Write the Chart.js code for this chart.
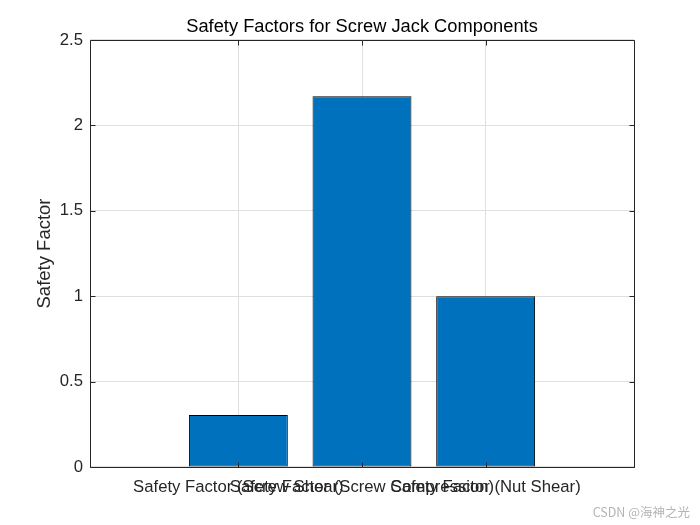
<!DOCTYPE html>
<html>
<head>
<meta charset="utf-8">
<script src="https://cdn.jsdelivr.net/npm/chart.js@4"></script>
<style>
html,body{margin:0;padding:0;background:#fff;}
canvas{display:block;}
</style>
</head>
<body>
<canvas id="c" width="700" height="525"></canvas>
<script>
const categories = ['Safety Factor (Screw Shear)', 'Safety Factor (Screw Compression)', 'Safety Factor (Nut Shear)'];
const safetyFactors = [0.305, 2.17, 1.0];
const yTicks = [0, 0.5, 1, 1.5, 2, 2.5];
const xTicks = [1, 2, 3];

const FONT = '"Liberation Sans", Arial, Helvetica, sans-serif';
const TXT = '#262626';

const points = categories.map((c, i) => ({x: i + 1, y: safetyFactors[i]}));

const frame = {
  id: 'frame',
  afterDatasetsDraw(chart) {
    const ctx = chart.ctx, a = chart.chartArea;
    const xs = chart.scales.x, ys = chart.scales.y;
    ctx.save();
    ctx.strokeStyle = TXT;
    ctx.lineWidth = 1;
    ctx.beginPath();
    const L = Math.round(a.left) + 0.5, R = Math.round(a.right) + 0.5;
    const T = Math.round(a.top) + 0.5, B = Math.round(a.bottom) + 0.5;
    ctx.rect(L, T, R - L, B - T);
    xTicks.forEach(v => {
      const p = Math.round(xs.getPixelForValue(v)) + 0.5;
      ctx.moveTo(p, B); ctx.lineTo(p, B - 5);
      ctx.moveTo(p, T); ctx.lineTo(p, T + 5);
    });
    yTicks.forEach(v => {
      const p = Math.round(ys.getPixelForValue(v)) + 0.5;
      ctx.moveTo(L, p); ctx.lineTo(L + 5, p);
      ctx.moveTo(R, p); ctx.lineTo(R - 5, p);
    });
    ctx.stroke();
    ctx.restore();
  },
  afterDraw(chart) {
    const ctx = chart.ctx;
    ctx.save();
    ctx.fillStyle = '#b4b4b4';
    ctx.font = '12.5px "Noto Sans CJK SC", sans-serif';
    ctx.textAlign = 'right';
    ctx.textBaseline = 'middle';
    ctx.fillText('CSDN @海神之光', 690, 512);
    ctx.restore();
  }
};

new Chart(document.getElementById('c'), {
  type: 'bar',
  data: {
    datasets: [{
      data: points,
      backgroundColor: '#0072BD',
      borderColor: '#000000',
      borderWidth: 1,
      borderSkipped: false,
      categoryPercentage: 0.8,
      barPercentage: 1.0
    }]
  },
  options: {
    responsive: false,
    animation: false,
    devicePixelRatio: 1,
    layout: {padding: {left: 0, right: 66, top: 0, bottom: 0}},
    plugins: {
      legend: {display: false},
      tooltip: {enabled: false},
      title: {
        display: true,
        text: 'Safety Factors for Screw Jack Components',
        fullSize: false,
        color: '#000',
        font: {family: FONT, size: 18.3, weight: 'normal'},
        padding: {top: 16, bottom: 2}
      }
    },
    scales: {
      x: {
        type: 'linear',
        min: -0.2,
        max: 4.2,
        offset: false,
        afterBuildTicks: s => { s.ticks = xTicks.map(v => ({value: v})); },
        afterFit: s => { s.height = 58; },
        grid: {offset: false, color: '#dfdfdf', drawTicks: false},
        border: {display: false},
        ticks: {
          autoSkip: false,
          maxRotation: 0,
          minRotation: 0,
          padding: 10,
          color: TXT,
          font: {family: FONT, size: 16.7},
          callback: v => categories[v - 1] || ''
        }
      },
      y: {
        min: 0,
        max: 2.5,
        afterBuildTicks: s => { s.ticks = yTicks.map(v => ({value: v})); },
        afterFit: s => { s.width = 90; },
        grid: {color: '#dfdfdf', drawTicks: false},
        border: {display: false},
        ticks: {
          padding: 7,
          color: TXT,
          font: {family: FONT, size: 16.7},
          callback: v => String(v)
        },
        title: {
          display: true,
          text: 'Safety Factor',
          color: TXT,
          font: {family: FONT, size: 18.5},
          padding: {top: 33.4, bottom: 0}
        }
      }
    }
  },
  plugins: [frame]
});
</script>
</body>
</html>
